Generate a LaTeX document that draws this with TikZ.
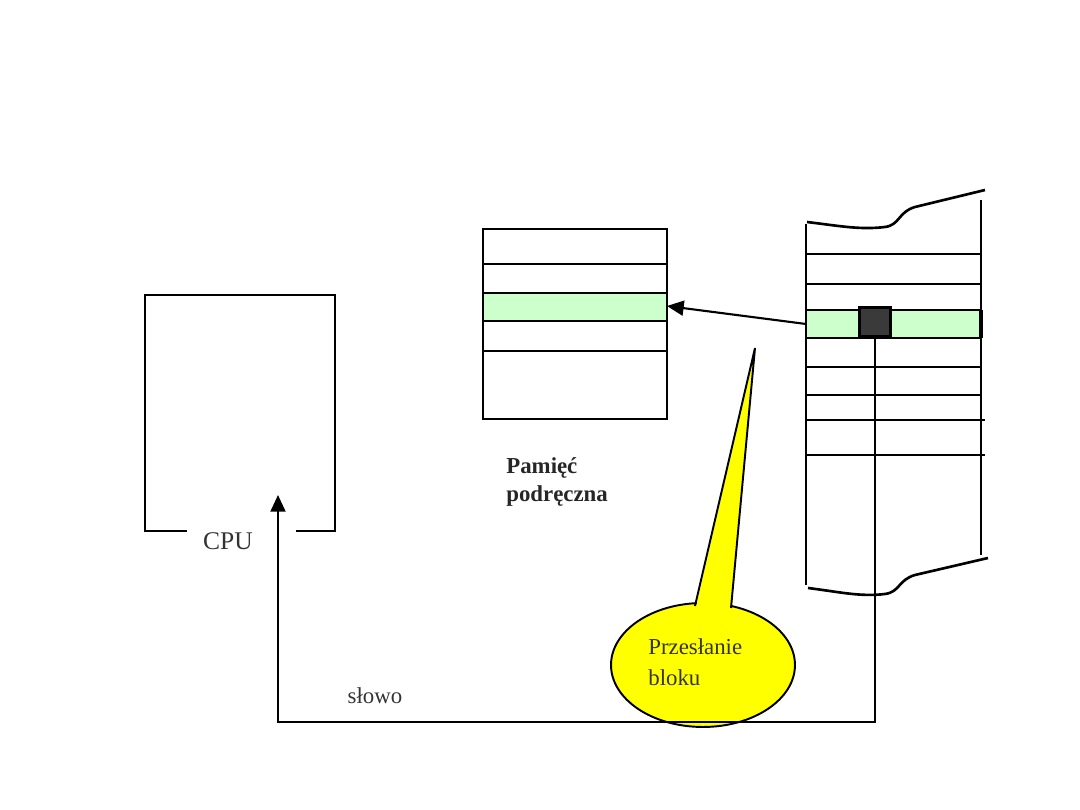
\documentclass[tikz,border=0pt]{standalone}
\usepackage{fontspec}
\setmainfont{Liberation Serif}
\usetikzlibrary{shapes.geometric,arrows.meta,positioning,calc}
\definecolor{lineGreen}{HTML}{CCFFCC}
\definecolor{wordGray}{HTML}{3A3A3A}
\definecolor{calloutYellow}{HTML}{FFFF00}
\definecolor{labelGray}{HTML}{333333}

\begin{document}
\begin{tikzpicture}[
    x=0.02cm, y=-0.02cm,
    box/.style={draw, line width=1.7pt},
    row/.style={line width=1.5pt},
    arrow/.style={-{Triangle[length=9.5pt, width=8.5pt]}, line width=1.2pt},
    label/.style={font=\fontsize{13}{18}\selectfont, text=labelGray,
                  inner sep=0pt, align=left},
]
    \useasboundingbox (0,0) rectangle (1080,810);

    % CPU
    \draw[box] (187,531) -- (145,531) -- (145,295) -- (335,295)
               -- (335,531) -- (296,531);
    \node[label, font=\fontsize{14.5}{17}\selectfont] (cpu) at (228,541) {CPU};
    \coordinate (cpuin) at (278,495);

    % cache
    \fill[lineGreen] (483,293) rectangle (667,321);
    \draw[box] (483,229) rectangle (667,419);
    \foreach \y in {264,293,321,351}
        \draw[row] (483,\y) -- (667,\y);
    \coordinate (cacheline) at (667,306);
    \node[label, font=\bfseries\fontsize{13}{16}\selectfont, text=black!85,
          anchor=north west] (cachelabel) at (506,457) {Pamięć\\podręczna};

    % main memory
    \fill[lineGreen] (806,310) rectangle (981,338);
    \draw[row] (806,224) -- (806,585);
    \draw[row] (981,200) -- (981,555);
    \foreach \y in {254,284,310,338,367,395}
        \draw[row] (806,\y) -- (981,\y);
    \foreach \y in {420,455}
        \draw[row] (806,\y) -- (985,\y);
    \draw[row] (807,222) .. controls (840,226) and (860,230) .. (885,227)
               .. controls (900,225) and (898,212) .. (915,207) -- (985,190);
    \draw[row] (808,588) .. controls (840,592) and (860,597) .. (885,594)
               .. controls (900,592) and (898,580) .. (915,575) -- (988,558);
    \draw[line width=2pt] (981,310) -- (981,338);
    \node[draw, fill=wordGray, line width=1.5pt, minimum width=0.62cm,
          minimum height=0.58cm, inner sep=0pt] (word) at (875,322) {};
    \coordinate (memline) at (806,324);

    % callout
    \node[ellipse, draw, fill=calloutYellow, line width=1.1pt,
          minimum width=3.68cm, minimum height=2.48cm] (callout) at (703,665) {};
    \fill[calloutYellow] (695,612) -- (755,348) -- (731,614) -- cycle;
    \draw[line width=1.1pt] (695,606) -- (755,348) -- (731,608);
    \node[label, anchor=north west] (calltext) at (648,638) {Przesłanie\\bloku};

    % transfers
    \draw[arrow] (memline) -- (cacheline);
    \coordinate (bend) at (278,722);
    \draw[arrow] (word.south) |- (bend) -- (cpuin);
    \node[label] (wordlabel) at (375,696) {słowo};
\end{tikzpicture}
\end{document}
